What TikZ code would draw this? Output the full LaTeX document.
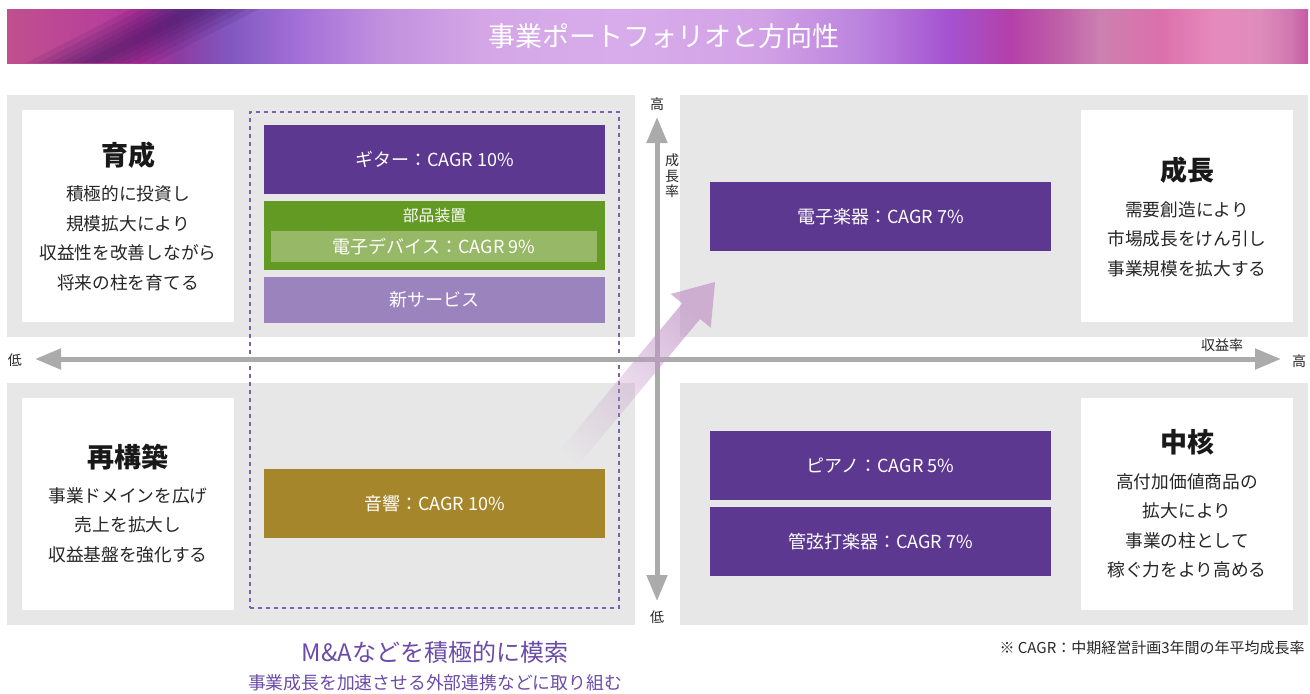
\documentclass[tikz,border=0pt]{standalone}
\usepackage{fontspec}
\setmainfont{Noto Sans CJK JP}
\usetikzlibrary{positioning,arrows.meta,fadings}
\definecolor{bggray}{HTML}{E7E7E7}
\definecolor{axisgray}{HTML}{ABABAB}
\definecolor{segpurple}{HTML}{5C3891}
\definecolor{seggreen}{HTML}{639A24}
\definecolor{seglight}{HTML}{97B866}
\definecolor{segviolet}{HTML}{9B84BE}
\definecolor{seggold}{HTML}{A6862A}
\definecolor{dashpurple}{HTML}{7B62B0}
\definecolor{mnapurple}{HTML}{6B4BA8}
\definecolor{arrowpink}{HTML}{C396C8}
\definecolor{banddark}{HTML}{3A1460}
\definecolor{tb01}{HTML}{C0508E}
\definecolor{tb02}{HTML}{B8409A}
\definecolor{tb03}{HTML}{B0309A}
\definecolor{tb04}{HTML}{8E3AA0}
\definecolor{tb05}{HTML}{8058C0}
\definecolor{tb06}{HTML}{A470D8}
\definecolor{tb07}{HTML}{C090DE}
\definecolor{tb08}{HTML}{D4A6E6}
\definecolor{tb09}{HTML}{D8ACEA}
\definecolor{tb10}{HTML}{D2A2E6}
\definecolor{tb11}{HTML}{BC84DE}
\definecolor{tb12}{HTML}{A452D0}
\definecolor{tb13}{HTML}{B440A8}
\definecolor{tb14}{HTML}{C060A8}
\definecolor{tb15}{HTML}{CC80B0}
\definecolor{tb16}{HTML}{DC70AC}
\definecolor{tb17}{HTML}{E68ABC}
\definecolor{tb18}{HTML}{DE8CBC}
\definecolor{tb19}{HTML}{D078B0}
\definecolor{tb20}{HTML}{C85AA4}
\pgfdeclarehorizontalshading{titleband}{100bp}{color(0bp)=(tb01); color(25bp)=(tb01);
  color(28.57bp)=(tb02); color(30.11bp)=(tb03); color(31.46bp)=(tb04); color(33.57bp)=(tb05);
  color(36.26bp)=(tb06); color(39.33bp)=(tb07); color(43.18bp)=(tb08); color(48.56bp)=(tb09);
  color(53.94bp)=(tb10); color(57.78bp)=(tb11); color(61.24bp)=(tb12); color(63.55bp)=(tb13);
  color(65.47bp)=(tb14); color(67bp)=(tb15); color(69.31bp)=(tb16); color(71.42bp)=(tb17);
  color(73.15bp)=(tb18); color(74.31bp)=(tb19); color(75bp)=(tb20); color(100bp)=(tb20)}
\tikzfading[name=arrowfade, top color=transparent!0, bottom color=transparent!100]

\begin{document}
\begin{tikzpicture}[
  x=0.5pt,y=-0.5pt,
  every node/.style={inner sep=0pt},
  quad/.style={fill=bggray},
  card/.style={fill=white,minimum width=106pt,minimum height=106pt},
  head/.style={font=\bfseries\fontsize{13.5}{16}\selectfont,text=black!90},
  desc/.style={align=center,font=\fontsize{8.85}{14.75}\selectfont,text=black!85},
  seg/.style={text=white,minimum width=170.5pt,minimum height=34.5pt,font=\fontsize{9}{11}\selectfont},
  axis/.style={draw=axisgray,line width=2.5pt,arrows={Triangle[length=13pt,width=10pt]-Triangle[length=13pt,width=10pt]}},
  axlabel/.style={font=\fontsize{7}{7.75}\selectfont,text=black!85}
]
  \useasboundingbox (0,0) rectangle (1310,693);
  \shade[shading=titleband] (7,9) rectangle (1308,63);
  \begin{scope}
    \clip (7,9) rectangle (1308,63);
    \foreach \w in {64,52,40,30,20,10}
      \fill[banddark,opacity=0.12] ({90-\w},63) -- ({90+\w},63) -- ({195+\w},9) -- ({195-\w},9) -- cycle;
  \end{scope}
  \node[text=white,font=\fontsize{13.5}{16}\selectfont] (title) at (664,36) {事業ポートフォリオと方向性};

  \foreach \x/\y in {7/95,680/95,7/383,680/383}
    \fill[quad] (\x,\y) rectangle ++(628,242);

  \node[card] (ikusei) at (128,216) {};
  \node[card] (seicho) at (1187,216) {};
  \node[card] (saikochiku) at (128,504) {};
  \node[card] (chukaku) at (1187,504) {};
  \node[head] (ikuseiT) at (128,155) {育成};
  \node[desc] (ikuseiD) at (128,238) {積極的に投資し\\規模拡大により\\収益性を改善しながら\\将来の柱を育てる};
  \node[head] (seichoT) at (1187,170) {成長};
  \node[desc] (seichoD) at (1187,239) {需要創造により\\市場成長をけん引し\\事業規模を拡大する};
  \node[head] (saikochikuT) at (128,457) {再構築};
  \node[desc] (saikochikuD) at (128,525) {事業ドメインを広げ\\売上を拡大し\\収益基盤を強化する};
  \node[head] (chukakuT) at (1187,442) {中核};
  \node[desc] (chukakuD) at (1187,526) {高付加価値商品の\\拡大により\\事業の柱として\\稼ぐ力をより高める};

  \node[draw=dashpurple,dash pattern=on 2pt off 2pt,line width=0.75pt,minimum width=184.5pt,minimum height=248pt] (mna) at (434.5,360) {};
  \node[font=\fontsize{12}{14}\selectfont,text=mnapurple] (mnaT) at (435,652) {M\&Aなどを積極的に模索};
  \node[font=\fontsize{8.9}{11}\selectfont,text=mnapurple] (mnaD) at (435,683) {事業成長を加速させる外部連携などに取り組む};

  \coordinate (xl) at (35,359);
  \coordinate (xr) at (1281,359);
  \coordinate (yt) at (657,117);
  \coordinate (yb) at (657,601);
  \draw[axis] (xl) -- (xr);
  \draw[axis] (yb) -- (yt);
  \node[axlabel] (lowx) at (15,360) {低};
  \node[axlabel] (highx) at (1299,361) {高};
  \node[axlabel] (highy) at (657,104) {高};
  \node[axlabel] (lowy) at (657,617) {低};
  \node[axlabel] (rate) at (1222,345) {収益率};
  \node[axlabel,align=center] (growth) at (672,176) {成\\長\\率};

  \fill[arrowpink,fill opacity=0.7,path fading=arrowfade,fading angle=-40]
    (715,282) -- (710.7,327.7) -- (700,319) -- (565.7,480) -- (534.9,480) -- (682.3,303.3) -- (670.7,294) -- cycle;

  \node[seg,fill=segpurple] (guitar) at (434.5,159.5) {ギター：CAGR 10\%};
  \node[seg,fill=seggreen] (parts) at (434.5,235.5) {};
  \node[text=white,font=\fontsize{7.9}{9}\selectfont] (partsT) at (434.5,216) {部品装置};
  \node[seg,fill=seglight,minimum width=163pt,minimum height=15.5pt] (device) at (434,246.5) {電子デバイス：CAGR 9\%};
  \node[seg,fill=segviolet,minimum height=23pt] (service) at (434.5,300) {新サービス};
  \node[seg,fill=segpurple] (elec) at (880.5,216.5) {電子楽器：CAGR 7\%};
  \node[seg,fill=segpurple] (piano) at (880.5,465.5) {ピアノ：CAGR 5\%};
  \node[seg,fill=segpurple] (orch) at (880.5,541.5) {管弦打楽器：CAGR 7\%};
  \node[seg,fill=seggold] (audio) at (434.5,503.5) {音響：CAGR 10\%};

  \node[anchor=east,font=\fontsize{7.5}{9}\selectfont,text=black!85] (note) at (1305,648) {※ CAGR：中期経営計画3年間の年平均成長率};
\end{tikzpicture}
\end{document}
